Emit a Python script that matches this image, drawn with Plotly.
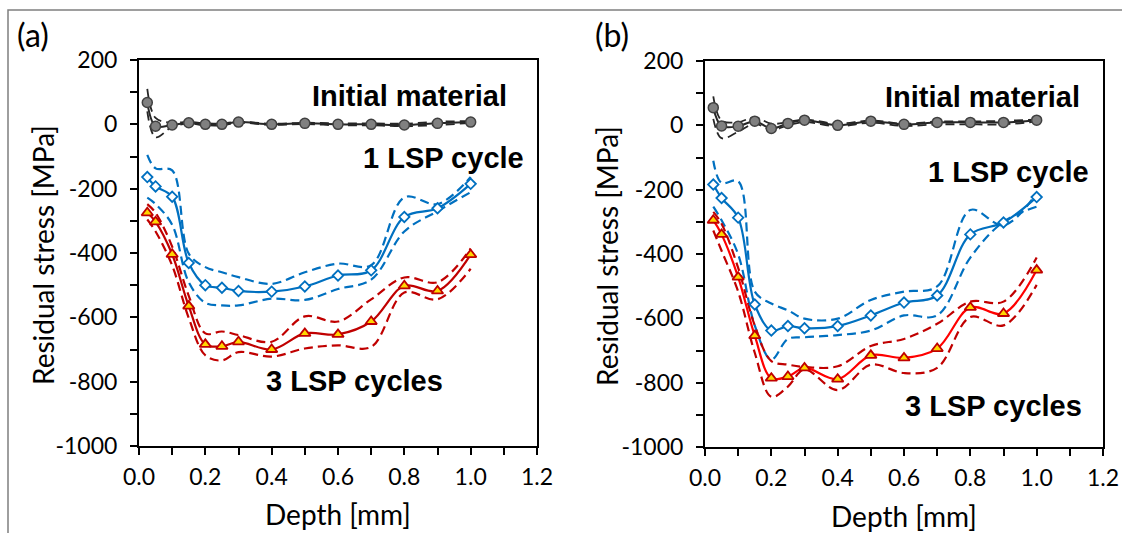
import plotly.graph_objects as go

depth = [0.025, 0.05, 0.1, 0.15, 0.2, 0.25, 0.3, 0.4, 0.5, 0.6, 0.7, 0.8, 0.9, 1.0]

# Panel (a)
a_init = [68, -6, -2, 5, 0, 0, 7, 0, 3, 0, 0, -2, 3, 7]
a_init_up = [110, 20, 5, 8, 3, 3, 8, 2, 5, 3, 3, 2, 8, 10]
a_init_lo = [40, -40, -8, 2, -3, -3, 5, -2, 1, -3, -3, -6, -2, 4]
a_1lsp = [-164, -193, -225, -431, -500, -508, -518, -520, -504, -470, -454, -288, -261, -185]
a_1lsp_up = [-95, -137, -143, -402, -444, -460, -475, -496, -460, -433, -438, -227, -248, -164]
a_1lsp_lo = [-228, -248, -312, -491, -555, -563, -563, -542, -546, -512, -483, -333, -270, -211]
a_3lsp = [-275, -303, -404, -565, -684, -690, -676, -700, -650, -653, -613, -502, -518, -405]
a_3lsp_up = [-248, -275, -380, -533, -650, -644, -655, -676, -597, -613, -544, -476, -491, -386]
a_3lsp_lo = [-296, -333, -439, -602, -718, -734, -708, -722, -697, -687, -692, -523, -544, -449]

# Panel (b)
b_init = [55, -2, -3, 13, -10, 6, 16, 0, 13, 3, 9, 9, 9, 16]
b_init_up = [90, 15, 10, 25, 5, 10, 18, 5, 15, 5, 12, 12, 14, 18]
b_init_lo = [20, -40, -20, 5, -15, 0, 10, -3, 8, -2, 3, 3, 3, 12]
b_1lsp = [-184, -226, -287, -557, -638, -624, -631, -624, -591, -551, -529, -339, -302, -223]
b_1lsp_up = [-110, -179, -174, -517, -554, -575, -601, -601, -543, -517, -501, -263, -311, -211]
b_1lsp_lo = [-253, -295, -401, -622, -728, -664, -659, -652, -638, -591, -591, -411, -300, -253]
b_3lsp = [-295, -339, -472, -654, -786, -781, -754, -789, -715, -723, -694, -566, -585, -450]
b_3lsp_up = [-269, -306, -443, -622, -733, -744, -751, -749, -686, -664, -617, -548, -548, -411]
b_3lsp_lo = [-327, -390, -517, -707, -844, -812, -759, -823, -744, -770, -754, -596, -622, -496]

x_ticks = [0.0, 0.2, 0.4, 0.6, 0.8, 1.0, 1.2]
x_ticklabels = ["0.0", "0.2", "0.4", "0.6", "0.8", "1.0", "1.2"]
y_ticks = [200, 0, -200, -400, -600, -800, -1000]
y_ticklabels = ["200", "0", "-200", "-400", "-600", "-800", "-1000"]
x_title = "Depth [mm]"
y_title = "Residual stress [MPa]"

BLUE = "#0070C0"
DARKRED = "#C00000"
RED = "#FF0000"
BLACK = "#262626"

fig = go.Figure()

def add_panel(fig, xa, ya, init, init_up, init_lo, s1, s1_up, s1_lo, s3, s3_up, s3_lo, red_solid):
    dash = "9px,5px"
    for yy in (init_up, init_lo):
        fig.add_trace(go.Scatter(x=depth, y=yy, mode="lines", xaxis=xa, yaxis=ya,
                                 line=dict(color=BLACK, width=1.8, dash=dash, shape="spline"),
                                 showlegend=False, hoverinfo="skip"))
    for yy in (s1_up, s1_lo):
        fig.add_trace(go.Scatter(x=depth, y=yy, mode="lines", xaxis=xa, yaxis=ya,
                                 line=dict(color=BLUE, width=2.2, dash=dash, shape="spline"),
                                 showlegend=False, hoverinfo="skip"))
    for yy in (s3_up, s3_lo):
        fig.add_trace(go.Scatter(x=depth, y=yy, mode="lines", xaxis=xa, yaxis=ya,
                                 line=dict(color=DARKRED, width=2.2, dash=dash, shape="spline"),
                                 showlegend=False, hoverinfo="skip"))
    fig.add_trace(go.Scatter(x=depth, y=init, mode="lines+markers", xaxis=xa, yaxis=ya,
                             line=dict(color=BLACK, width=2, shape="spline"),
                             marker=dict(symbol="circle", size=10, color="#808080",
                                         line=dict(color="#404040", width=1.5)),
                             showlegend=False))
    fig.add_trace(go.Scatter(x=depth, y=s1, mode="lines+markers", xaxis=xa, yaxis=ya,
                             line=dict(color=BLUE, width=2.2, shape="spline"),
                             marker=dict(symbol="diamond", size=8, color="white",
                                         line=dict(color=BLUE, width=1.8)),
                             showlegend=False))
    fig.add_trace(go.Scatter(x=depth, y=s3, mode="lines+markers", xaxis=xa, yaxis=ya,
                             line=dict(color=red_solid, width=2.2, shape="spline"),
                             marker=dict(symbol="triangle-up", size=10, color="#FFD700",
                                         line=dict(color=DARKRED, width=1.8)),
                             showlegend=False))

add_panel(fig, "x", "y", a_init, a_init_up, a_init_lo, a_1lsp, a_1lsp_up, a_1lsp_lo,
          a_3lsp, a_3lsp_up, a_3lsp_lo, DARKRED)
add_panel(fig, "x2", "y2", b_init, b_init_up, b_init_lo, b_1lsp, b_1lsp_up, b_1lsp_lo,
          b_3lsp, b_3lsp_up, b_3lsp_lo, RED)

tickfont = dict(family="Lato", size=23, color="black")
titlefont = dict(family="Lato", size=28, color="black")

def xaxis_cfg(domain, anchor):
    return dict(domain=domain, anchor=anchor, range=[0, 1.2], tickvals=x_ticks,
                ticktext=x_ticklabels, showgrid=False, zeroline=False, automargin=False,
                showline=True, linecolor="black", linewidth=2, mirror=True,
                ticks="outside", ticklen=7, tickwidth=2, tickcolor="black",
                minor=dict(dtick=0.1, tick0=0, ticks="outside", ticklen=7,
                           tickwidth=2, tickcolor="black", showgrid=False),
                tickfont=tickfont, ticklabelstandoff=2, ticklabeloverflow="allow")

def yaxis_cfg(domain, anchor):
    return dict(domain=domain, anchor=anchor, range=[-1000, 200], tickvals=y_ticks,
                ticktext=y_ticklabels, showgrid=False, zeroline=False, automargin=False,
                showline=True, linecolor="black", linewidth=2, mirror=True,
                ticks="outside", ticklen=7, tickwidth=2, tickcolor="black",
                minor=dict(dtick=100, tick0=0, ticks="outside", ticklen=7,
                           tickwidth=2, tickcolor="black", showgrid=False),
                tickfont=tickfont, ticklabelstandoff=8, ticklabeloverflow="allow")

W, H = 1122, 533
def px(x):
    return x / W
def py(y):
    return 1 - y / H

ann_font = dict(family="Liberation Sans", size=29, color="black")
annotations = [
    dict(text="(a)", x=px(33), y=py(34), font=dict(family="Lato", size=32, color="black")),
    dict(text="(b)", x=px(612), y=py(34), font=dict(family="Lato", size=32, color="black")),
    dict(text="<b>Initial material</b>", x=px(409), y=py(96), font=ann_font),
    dict(text="<b>1 LSP cycle</b>", x=px(443), y=py(158), font=ann_font),
    dict(text="<b>3 LSP cycles</b>", x=px(354), y=py(381), font=ann_font),
    dict(text="<b>Initial material</b>", x=px(982), y=py(97), font=ann_font),
    dict(text="<b>1 LSP cycle</b>", x=px(1008), y=py(172), font=ann_font),
    dict(text="<b>3 LSP cycles</b>", x=px(993), y=py(406), font=ann_font),
    dict(text=x_title, x=px(338), y=py(514), font=titlefont),
    dict(text=x_title, x=px(904), y=py(516), font=titlefont),
    dict(text=y_title, x=px(43), y=py(255), font=titlefont, textangle=-90),
    dict(text=y_title, x=px(607), y=py(256), font=titlefont, textangle=-90),
]
for a in annotations:
    a.update(xref="paper", yref="paper", showarrow=False, xanchor="center", yanchor="middle")

fig.update_layout(
    template="none",
    width=W, height=H,
    margin=dict(l=0, r=0, t=0, b=0),
    paper_bgcolor="white", plot_bgcolor="white",
    xaxis=xaxis_cfg([px(139), px(537)], "y"),
    yaxis=yaxis_cfg([py(446), py(60)], "x"),
    xaxis2=xaxis_cfg([px(705), px(1103)], "y2"),
    yaxis2=yaxis_cfg([py(447), py(61)], "x2"),
    annotations=annotations,
    shapes=[dict(type="rect", xref="paper", yref="paper", x0=px(8), x1=px(1125),
                 y0=py(545), y1=py(10), line=dict(color="#7F7F7F", width=1.5))],
)

# Remove the default page margin so the figure fills the 1122x533 window exactly.
fig.write_html("out.html", config={"displayModeBar": False},
               post_script="document.body.style.margin='0px';document.body.style.overflow='hidden';")
